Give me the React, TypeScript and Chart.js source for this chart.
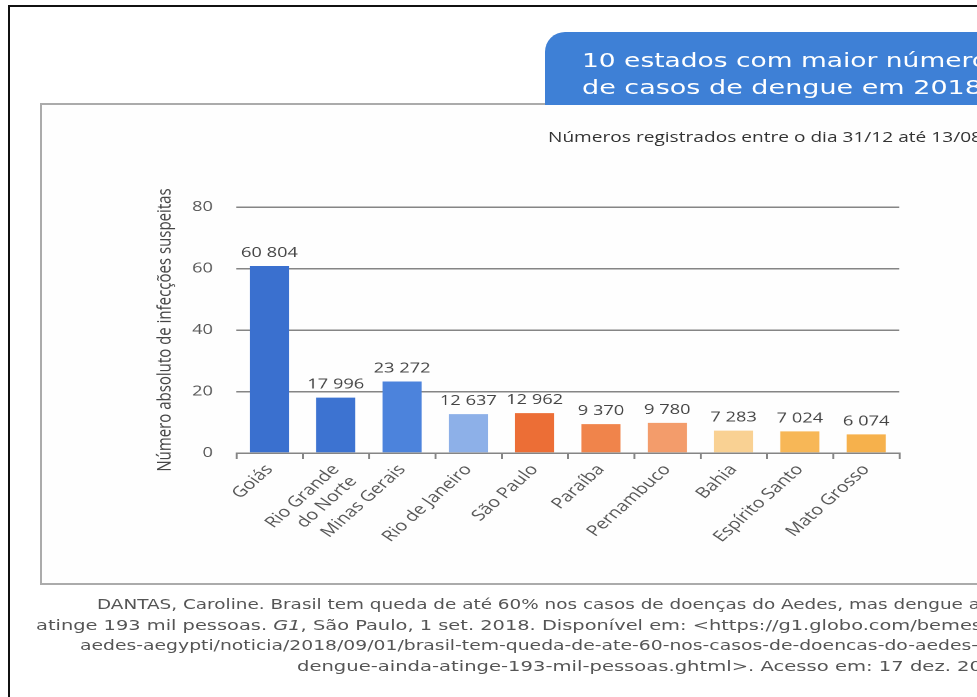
import React, { useEffect, useRef } from "react";
import { Chart, registerables } from "chart.js";

Chart.register(...registerables);

// ---- data ----
const categories: (string | string[])[] = [
  "Goiás",
  ["Rio Grande", "do Norte"],
  "Minas Gerais",
  "Rio de Janeiro",
  "São Paulo",
  "Paraíba",
  "Pernambuco",
  "Bahia",
  "Espírito Santo",
  "Mato Grosso",
];
const suspectedCases = [60804, 17996, 23272, 12637, 12962, 9370, 9780, 7283, 7024, 6074];
const barColors = [
  "#3a70cf",
  "#3d73d1",
  "#4c83dc",
  "#8db0e8",
  "#ec6e36",
  "#f0844b",
  "#f39c6b",
  "#f9d193",
  "#f7b757",
  "#f6b14c",
];
const yMin = 0;
const yMax = 80000;
const yStep = 20000;

const titleLines = ["10 estados com maior número", "de casos de dengue em 2018"];
const subtitle = "Números registrados entre o dia 31/12 até 13/08";
const yAxisTitle = "Número absoluto de infecções suspeitas";

const STRETCH = 1.3; // the scanned page is stretched horizontally
const CANVAS_W = 721;
const CANVAS_H = 478;

function formatThousands(v: number): string {
  return String(v).replace(/\B(?=(\d{3})+(?!\d))/g, " ");
}

const valueLabels = {
  id: "valueLabels",
  afterDatasetsDraw(chart: any) {
    const ctx = chart.ctx;
    const meta = chart.getDatasetMeta(0);
    const data = chart.data.datasets[0].data as number[];
    ctx.save();
    ctx.font = "14px 'Open Sans'";
    ctx.fillStyle = "#444";
    ctx.textAlign = "center";
    ctx.textBaseline = "alphabetic";
    meta.data.forEach((bar: any, i: number) => {
      ctx.fillText(formatThousands(data[i]), bar.x, bar.y - 9);
    });
    ctx.restore();
  },
};

function BarChart() {
  const ref = useRef<HTMLCanvasElement | null>(null);
  useEffect(() => {
    if (!ref.current) return;
    const chart = new Chart(ref.current, {
      type: "bar",
      data: {
        labels: categories as any,
        datasets: [
          {
            data: suspectedCases,
            backgroundColor: barColors,
            borderWidth: 0,
            barPercentage: 0.59,
            categoryPercentage: 1,
          },
        ],
      },
      options: {
        responsive: false,
        animation: false,
        devicePixelRatio: 2,
        layout: { padding: { left: 83, top: 103, right: 60, bottom: 0 } },
        plugins: {
          legend: { display: false },
          tooltip: { enabled: false },
        },
        scales: {
          x: {
            grid: {
              display: true,
              offset: true,
              drawOnChartArea: false,
              drawTicks: true,
              tickLength: 6,
              color: "#858585",
              lineWidth: 1.5,
            },
            border: { display: true, color: "#858585", width: 1.5 },
            ticks: {
              autoSkip: false,
              minRotation: 49,
              maxRotation: 49,
              padding: 2,
              color: "#555",
              font: { family: "'Open Sans'", size: 15 },
            },
            afterFit: (s: any) => {
              s.height = 129;
            },
          },
          y: {
            min: yMin,
            max: yMax,
            ticks: {
              stepSize: yStep,
              padding: 18,
              color: "#555",
              font: { family: "'Open Sans'", size: 14 },
              callback: (v: any) => String(Number(v) / 1000),
            },
            grid: { drawTicks: false, color: "#858585", lineWidth: 1.5 },
            border: { display: false },
            title: {
              display: true,
              text: yAxisTitle,
              color: "#444",
              font: { family: "'Open Sans'", size: 15 },
              padding: { top: 4, bottom: 0 },
            },
            afterFit: (s: any) => {
              s.width = 68;
            },
          },
        },
      },
      plugins: [valueLabels],
    });
    return () => chart.destroy();
  }, []);
  return (
    <canvas
      ref={ref}
      width={CANVAS_W}
      height={CANVAS_H}
      style={{
        position: "absolute",
        left: 40,
        top: 104,
        width: CANVAS_W,
        height: CANVAS_H,
        transform: `scaleX(${STRETCH})`,
        transformOrigin: "0 0",
      }}
    />
  );
}

export default function App() {
  const src = "'DejaVu Sans', sans-serif";
  return (
    <div
      style={{
        position: "fixed",
        left: 0,
        top: 0,
        width: 977,
        height: 697,
        overflow: "hidden",
        background: "#ffffff",
      }}
    >
      {/* outer black frame */}
      <div
        style={{
          position: "absolute",
          left: 8,
          top: 5,
          width: 2000,
          height: 2000,
          borderLeft: "2px solid #111",
          borderTop: "2px solid #111",
        }}
      />
      {/* chart panel */}
      <div
        style={{
          position: "absolute",
          left: 40,
          top: 103,
          width: 1200,
          height: 478,
          border: "2px solid #ababab",
          background: "#fefefe",
        }}
      />
      {/* blue title tab */}
      <div
        style={{
          position: "absolute",
          left: 545,
          top: 32,
          width: 600,
          height: 73,
          background: "#3e80d6",
          borderTopLeftRadius: 20,
        }}
      />
      <BarChart />
      <svg
        width={977}
        height={697}
        style={{ position: "absolute", left: 0, top: 0, pointerEvents: "none" }}
      >
        <text x={582} y={67} fill="#ffffff" fontFamily="'DejaVu Sans', sans-serif" fontSize={19} textLength={406} lengthAdjust="spacingAndGlyphs">
          {titleLines[0]}
        </text>
        <text x={582} y={94} fill="#ffffff" fontFamily="'DejaVu Sans', sans-serif" fontSize={19} textLength={400} lengthAdjust="spacingAndGlyphs">
          {titleLines[1]}
        </text>
        <text x={548} y={142} fill="#333" fontFamily="'Open Sans', sans-serif" fontSize={14} textLength={434} lengthAdjust="spacingAndGlyphs">
          {subtitle}
        </text>

        <text x={97} y={609} fill="#555" fontFamily={src} fontSize={14} textLength={883} lengthAdjust="spacingAndGlyphs">
          DANTAS, Caroline. Brasil tem queda de até 60% nos casos de doenças do Aedes, mas dengue a
        </text>
        <text x={36} y={630} fill="#555" fontFamily={src} fontSize={14} textLength={946} lengthAdjust="spacingAndGlyphs">
          atinge 193 mil pessoas. <tspan fontStyle="italic">G1</tspan>, São Paulo, 1 set. 2018. Disponível em: &lt;https://g1.globo.com/bemes
        </text>
        <text x={80} y={650} fill="#555" fontFamily={src} fontSize={14} textLength={898} lengthAdjust="spacingAndGlyphs">
          aedes-aegypti/noticia/2018/09/01/brasil-tem-queda-de-ate-60-nos-casos-de-doencas-do-aedes-
        </text>
        <text x={297} y={671} fill="#555" fontFamily={src} fontSize={14} textLength={685} lengthAdjust="spacingAndGlyphs">
          dengue-ainda-atinge-193-mil-pessoas.ghtml&gt;. Acesso em: 17 dez. 20
        </text>
      </svg>
    </div>
  );
}
